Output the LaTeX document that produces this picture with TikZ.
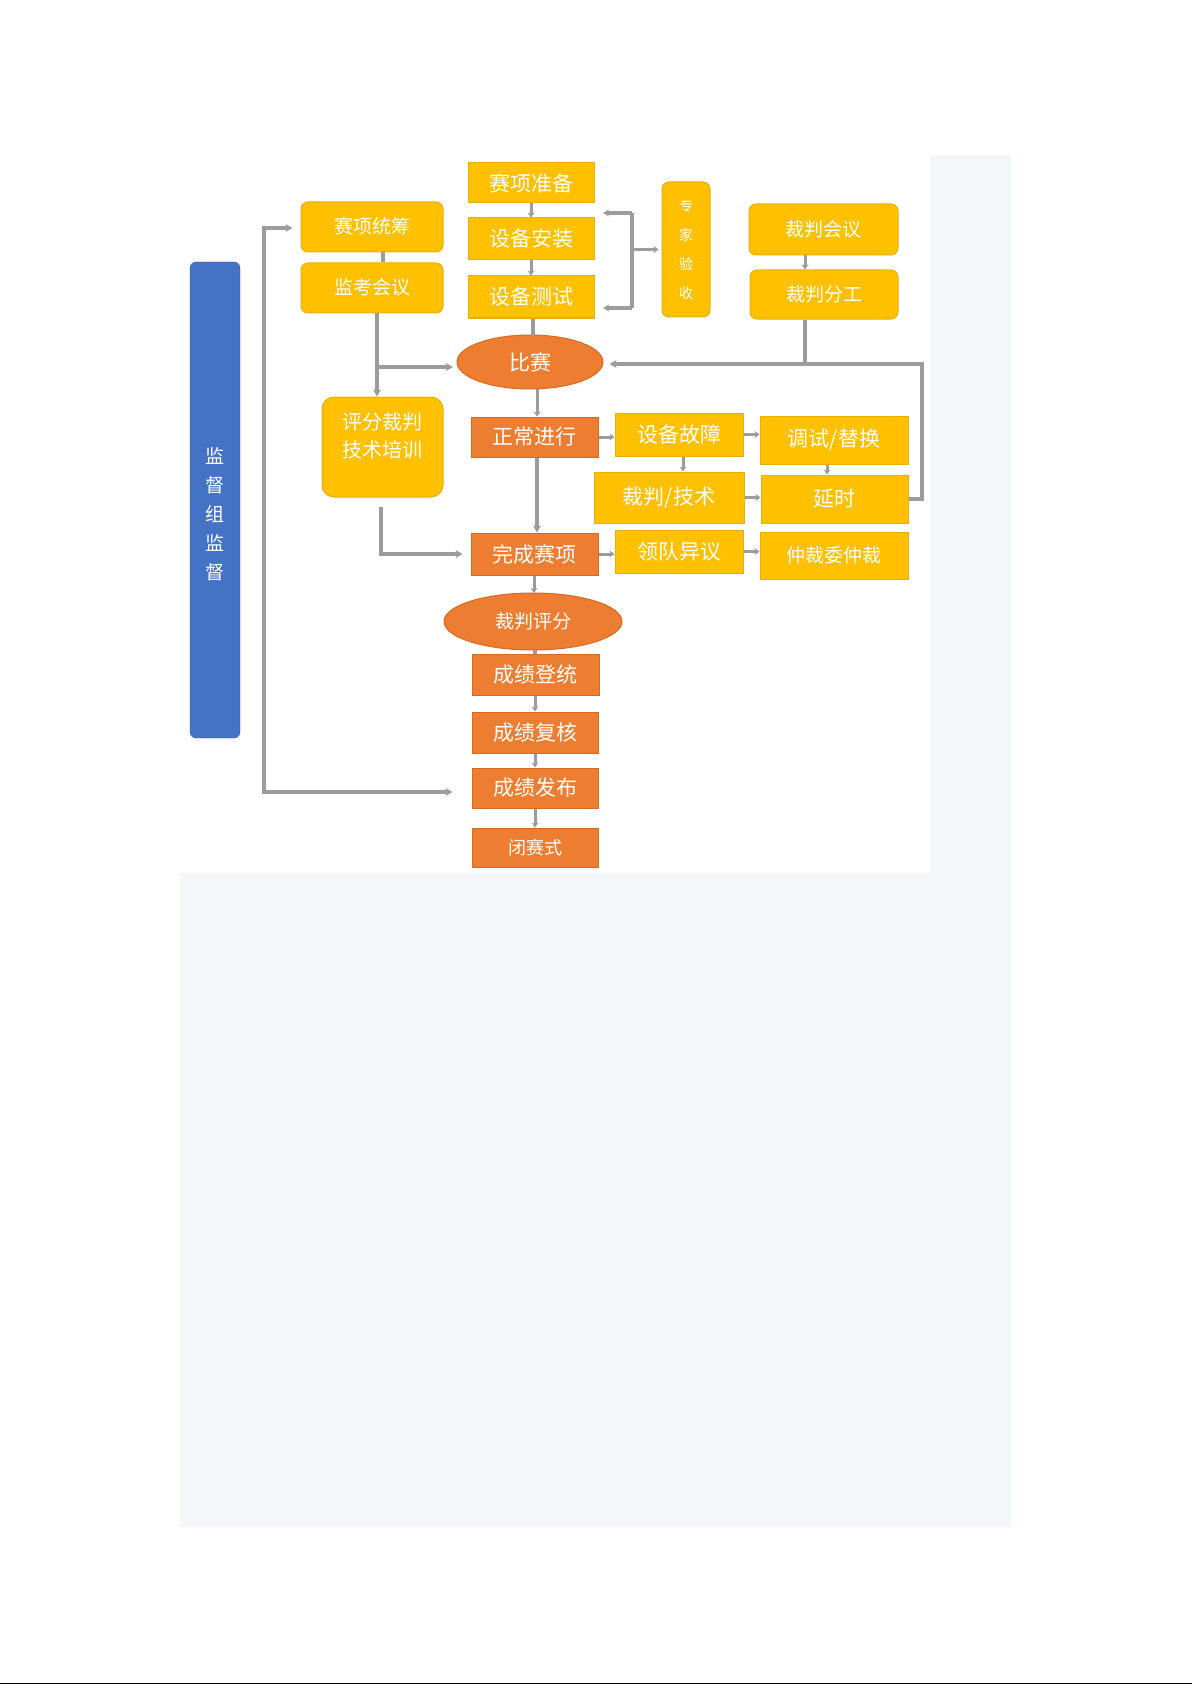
\documentclass[tikz,border=0pt]{standalone}
\usepackage{fontspec}
\setmainfont{Noto Sans CJK SC}
\usetikzlibrary{arrows.meta,shapes.geometric,calc}
\definecolor{ygold}{HTML}{FFC000}
\definecolor{ygoldb}{HTML}{E9AF0A}
\definecolor{oran}{HTML}{ED7D31}
\definecolor{oranb}{HTML}{D8691F}
\definecolor{bblue}{HTML}{4472C4}
\definecolor{lgray}{HTML}{9C9C9C}
\definecolor{panel}{HTML}{F3F7FA}
\tikzset{
  ybox/.style={draw=ygoldb,fill=ygold,line width=1pt,text=white,inner sep=0pt,font=\fontsize{21}{24}\selectfont},
  ybr/.style={ybox,rounded corners=7pt},
  obox/.style={draw=oranb,fill=oran,line width=1pt,text=white,inner sep=0pt,font=\fontsize{21}{24}\selectfont},
  oell/.style={obox,ellipse},
  conn/.style={draw=lgray,line width=3.5pt},
  arr/.style={conn,-{Stealth[length=7pt,width=8pt]}},
  sarr/.style={draw=lgray,line width=3pt,-{Stealth[length=5pt,width=7pt]}},
}
\begin{document}
\begin{tikzpicture}[x=1pt,y=-1pt]
\useasboundingbox (0,0) rectangle (1192,1685);
\fill[white] (0,0) rectangle (1192,1685);
\fill[panel] (180,155) rectangle (1011,1527);
\fill[white] (180,155) rectangle (930,873);
\draw[black,line width=1.5pt] (0,1683.5) -- (1192,1683.5);

% left blue bar
\node[fill=bblue,draw=bblue!85!black,rounded corners=6pt,minimum width=50,minimum height=476,inner sep=0pt] (sup) at (215,500) {};
\node[text=white,font=\fontsize{19}{29}\selectfont,align=center] (suptxt) at (215,514) {监\\督\\组\\监\\督};

% top column
\node[ybox,minimum width=126,minimum height=40] (prep) at (531,183) {赛项准备};
\node[ybox,minimum width=126,minimum height=42] (install) at (531,239) {设备安装};
\node[ybox,minimum width=126,minimum height=42] (test) at (531,297) {设备测试};

\node[ybr,minimum width=142,minimum height=50,font=\fontsize{19}{22}\selectfont] (tongchou) at (372,227) {\raisebox{3pt}{赛项统筹}};
\node[ybr,minimum width=142,minimum height=50,font=\fontsize{19}{22}\selectfont] (jiankao) at (372,288) {\raisebox{3pt}{监考会议}};

\node[ybr,minimum width=48,minimum height=135,font=\fontsize{14}{29}\selectfont,align=center] (expert) at (686,249.5) {专\\家\\验\\收};

\node[ybr,minimum width=149,minimum height=51,font=\fontsize{19}{22}\selectfont] (refmeet) at (823.5,229.5) {裁判会议};
\node[ybr,minimum width=148,minimum height=49,font=\fontsize{19}{22}\selectfont] (refdiv) at (824,294.5) {裁判分工};

\node[oell,minimum width=146,minimum height=54] (bisai) at (530,362) {比赛};

\node[ybr,rounded corners=12pt,minimum width=121,minimum height=100] (train) at (382.5,447) {};
\node[text=white,align=center,font=\fontsize{20}{28}\selectfont,inner sep=0pt] (traintxt) at (382.5,436) {评分裁判\\技术培训};

\node[obox,minimum width=127,minimum height=40] (normal) at (534.5,437) {正常进行};
\node[ybox,minimum width=128,minimum height=43] (fault) at (679,434.5) {设备故障};
\node[ybox,minimum width=148,minimum height=48] (debug) at (834,440) {调试/替换};
\node[ybox,minimum width=150,minimum height=51] (tech) at (669,497.5) {裁判/技术};
\node[ybox,minimum width=147,minimum height=48] (delay) at (834.5,499) {延时};

\node[obox,minimum width=127,minimum height=42] (finish) at (534.5,554) {完成赛项};
\node[ybox,minimum width=128,minimum height=43] (objection) at (679,551.5) {领队异议};
\node[ybox,minimum width=148,minimum height=47,font=\fontsize{19}{22}\selectfont] (arbit) at (834,555.5) {仲裁委仲裁};

\node[oell,minimum width=178,minimum height=57,font=\fontsize{19}{22}\selectfont] (score) at (533,621.5) {裁判评分};
\node[obox,minimum width=127,minimum height=41] (record) at (535.5,674.5) {成绩登统};
\node[obox,minimum width=126,minimum height=41] (review) at (535,732.5) {成绩复核};
\node[obox,minimum width=126,minimum height=40] (publish) at (535,788) {成绩发布};
\node[obox,minimum width=126,minimum height=39,font=\fontsize{18}{22}\selectfont] (close) at (535,847.5) {闭赛式};

% main column connectors
\draw[sarr] (prep.south) -- (install.north);
\draw[sarr] (install.south) -- (test.north);
\draw[conn] (test.south -| 533,0) -- (533,336);
\draw[sarr] (537,389) -- (normal.north -| 537,0);
\draw[arr] (normal.south -| 537,0) -- (finish.north -| 537,0);
\draw[sarr] (finish.south -| 534,0) -- (534,593);
\draw[conn] (535,650) -- (record.north -| 535,0);
\draw[sarr] (record.south -| 535,0) -- (review.north -| 535,0);
\draw[sarr] (review.south) -- (publish.north);
\draw[sarr] (publish.south) -- (close.north);

% left side
\draw[conn] (tongchou.south) ++(11,0) -- ($(jiankao.north)+(11,0)$);
\coordinate (jk) at (377,313);
\coordinate (br) at (377,367);
\draw[arr] (jk) -- (jk |- train.north);
\draw[arr] (br) -- (453,367);
\coordinate (tr) at (381,507);
\coordinate (lt) at (264,228);
\coordinate (lb) at (264,792);
\draw[arr] (tr) |- ([xshift=-8pt]finish.west);
\draw[conn,{Stealth[length=7pt,width=8pt]}-{Stealth[length=7pt,width=8pt]}] ([xshift=-8pt]tongchou.west |- lt) -- (lt) -- (lb) -- ([xshift=-19pt]publish.west |- lb);

% bracket to expert
\coordinate (bt) at (632,213);
\coordinate (bb) at (632,308);
\draw[conn,-{Stealth[length=6pt,width=7pt]}] (bt) -- (603,213);
\draw[conn,-{Stealth[length=6pt,width=7pt]}] (bb) -- (603,308);
\draw[conn] (bt) -- (bb);
\draw[sarr] (632,249.5) -- ([xshift=-3pt]expert.west);

% referee side
\draw[sarr] (refmeet.south -| 805,0) -- (refdiv.north -| 805,0);
\draw[conn] (refdiv.south -| 805,0) -- (805,364);
\draw[arr] (delay.east) -- (922,499) -- (922,364) -- ([xshift=6pt]bisai.east |- 0,364);

% small arrows
\draw[sarr] (normal.east) -- (normal.east -| fault.west);
\draw[sarr] (fault.east) -- (fault.east -| debug.west);
\draw[sarr] (fault.south -| 683,0) -- (tech.north -| 683,0);
\draw[sarr] (debug.south -| 827,0) -- (delay.north -| 827,0);
\draw[sarr] (tech.east) -- (tech.east -| delay.west);
\draw[sarr] (finish.east) -- (finish.east -| objection.west);
\draw[sarr] (objection.east) -- (objection.east -| arbit.west);
\end{tikzpicture}
\end{document}
